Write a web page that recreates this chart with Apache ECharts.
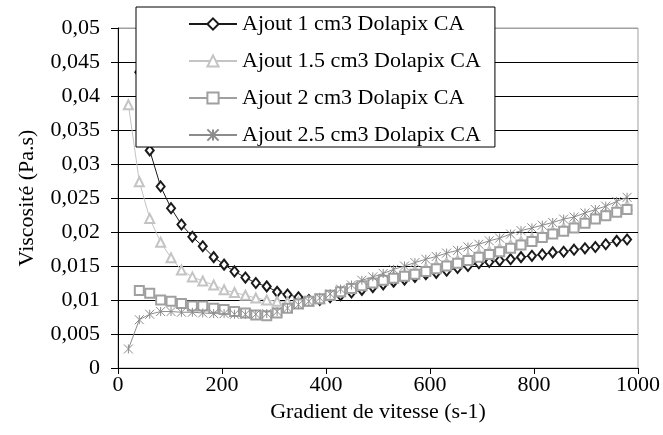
<!DOCTYPE html>
<html>
<head>
<meta charset="utf-8">
<script src="https://cdn.jsdelivr.net/npm/echarts@6/dist/echarts.min.js"></script>
<style>html,body{margin:0;padding:0;background:#fff}#c{width:663px;height:435px}</style>
</head>
<body>
<div id="c"></div>
<script>
// Shear rate (s-1)
const gradient = [20,41,61,82,102,122,143,163,184,204,224,245,265,286,306,326,347,367,388,408,428,449,469,490,510,530,551,571,592,612,632,653,673,694,714,734,755,775,796,816,836,857,877,898,918,938,959,979];
const ajout1 = [null,0.0435,0.0320,0.0267,0.0235,0.0211,0.0193,0.0179,0.0163,0.0152,0.0142,0.0133,0.0125,0.0120,0.0112,0.0108,0.0104,0.0100,0.0100,0.0104,0.0107,0.0111,0.0115,0.0119,0.0123,0.0127,0.0130,0.0134,0.0138,0.0140,0.0143,0.0147,0.0150,0.0154,0.0156,0.0158,0.0160,0.0163,0.0165,0.0167,0.0170,0.0171,0.0174,0.0176,0.0178,0.0182,0.0187,0.0189];
const ajout15 = [0.0387,0.0274,0.0220,0.0185,0.0162,0.0144,0.0134,0.0128,0.0122,0.0115,0.0111,0.0107,0.0103,0.0100,0.0098,0.0097,0.0097,0.0098,0.0102,0.0107,0.0112,0.0117,0.0122,0.0127,0.0131,0.0135,0.0139,0.0143,0.0147,0.0151,0.0155,0.0159,0.0163,0.0168,0.0172,0.0176,0.0181,0.0186,0.0191,0.0196,0.0201,0.0206,0.0211,0.0217,0.0222,0.0227,0.0233,0.0239];
const ajout2 = [null,0.0114,0.0110,0.0100,0.0098,0.0095,0.0091,0.0091,0.0088,0.0086,0.0083,0.0081,0.0078,0.0077,0.0081,0.0088,0.0094,0.0098,0.0102,0.0107,0.0112,0.0117,0.0121,0.0125,0.0129,0.0132,0.0135,0.0138,0.0142,0.0146,0.0150,0.0154,0.0158,0.0163,0.0167,0.0171,0.0176,0.0181,0.0186,0.0192,0.0197,0.0201,0.0206,0.0213,0.0219,0.0224,0.0229,0.0233];
const ajout25 = [0.0028,0.0071,0.0079,0.0083,0.0083,0.0082,0.0082,0.0081,0.0080,0.0080,0.0079,0.0079,0.0079,0.0080,0.0083,0.0088,0.0093,0.0098,0.0103,0.0109,0.0116,0.0122,0.0129,0.0134,0.0139,0.0145,0.0150,0.0155,0.0160,0.0164,0.0169,0.0173,0.0178,0.0182,0.0187,0.0191,0.0197,0.0202,0.0206,0.0210,0.0214,0.0219,0.0222,0.0228,0.0233,0.0238,0.0245,0.0251];
const seriesNames = ['Ajout 1 cm3 Dolapix CA','Ajout 1.5 cm3 Dolapix CA','Ajout 2 cm3 Dolapix CA','Ajout 2.5 cm3 Dolapix CA'];

const FONT = 'Liberation Serif';
const FS = 22;
function pairs(ys){ return gradient.map((x,i)=> [x, ys[i]]); }
const star = 'path://M0,0L10,10M10,0L0,10M5,0L5,10';
function mk(name, ys, color, symbol, size){
  return {
    name, type:'line', data: pairs(ys), symbol, symbolSize: size,
    lineStyle:{color, width:1}, itemStyle:{color, borderColor:color, borderWidth:1},
    emphasis:{disabled:true}, animation:false
  };
}
const chart = echarts.init(document.getElementById('c'), null, {renderer:'canvas'});
const gridColors = ['#000','#000','#000','#000','#000','#000','#000','#000','#000','#000','#a0a0a0'];
chart.setOption({
  backgroundColor:'#fff',
  animation:false,
  grid:{left:118,right:21,top:28,bottom:67,show:true,borderColor:'#a0a0a0',borderWidth:1,backgroundColor:'transparent'},
  legend:{
    orient:'vertical', left:136, top:7,
    data: seriesNames,
    backgroundColor:'#fff', borderColor:'#000', borderWidth:1,
    padding:[6,14,1,52], itemWidth:48, itemHeight:14, itemGap:15,
    textStyle:{fontFamily:FONT,fontSize:FS,color:'#000'}
  },
  xAxis:{
    type:'value', min:0, max:1000, interval:200,
    name:'Gradient de vitesse (s-1)', nameLocation:'middle', nameGap:26,
    nameTextStyle:{fontFamily:FONT,fontSize:FS,color:'#000'},
    axisLine:{lineStyle:{color:'#000',width:1}},
    axisTick:{show:true,length:6,lineStyle:{color:'#000'}},
    axisLabel:{fontFamily:FONT,fontSize:FS,color:'#000',margin:6,formatter:v=>String(v)},
    splitLine:{show:false}
  },
  yAxis:{
    type:'value', min:0, max:0.05, interval:0.005,
    name:'Viscosité (Pa.s)', nameLocation:'middle', nameGap:80, nameRotate:90,
    nameTextStyle:{fontFamily:FONT,fontSize:FS,color:'#000'},
    axisLine:{show:true,lineStyle:{color:'#000',width:1}},
    axisTick:{show:true,length:7,lineStyle:{color:'#000'}},
    axisLabel:{fontFamily:FONT,fontSize:FS,color:'#000',margin:18,
      formatter:v=>String(+v.toFixed(3)).replace('.',',')},
    splitLine:{show:true,lineStyle:{color:gridColors,width:1}}
  },
  series:[
    mk(seriesNames[0], ajout1, '#1a1a1a', 'emptyDiamond', [8,10]),
    mk(seriesNames[1], ajout15, '#c4c4c4', 'emptyTriangle', 9),
    mk(seriesNames[2], ajout2, '#a0a0a0', 'emptyRect', 9),
    mk(seriesNames[3], ajout25, '#8c8c8c', star, 9)
  ]
});
</script>
</body>
</html>
